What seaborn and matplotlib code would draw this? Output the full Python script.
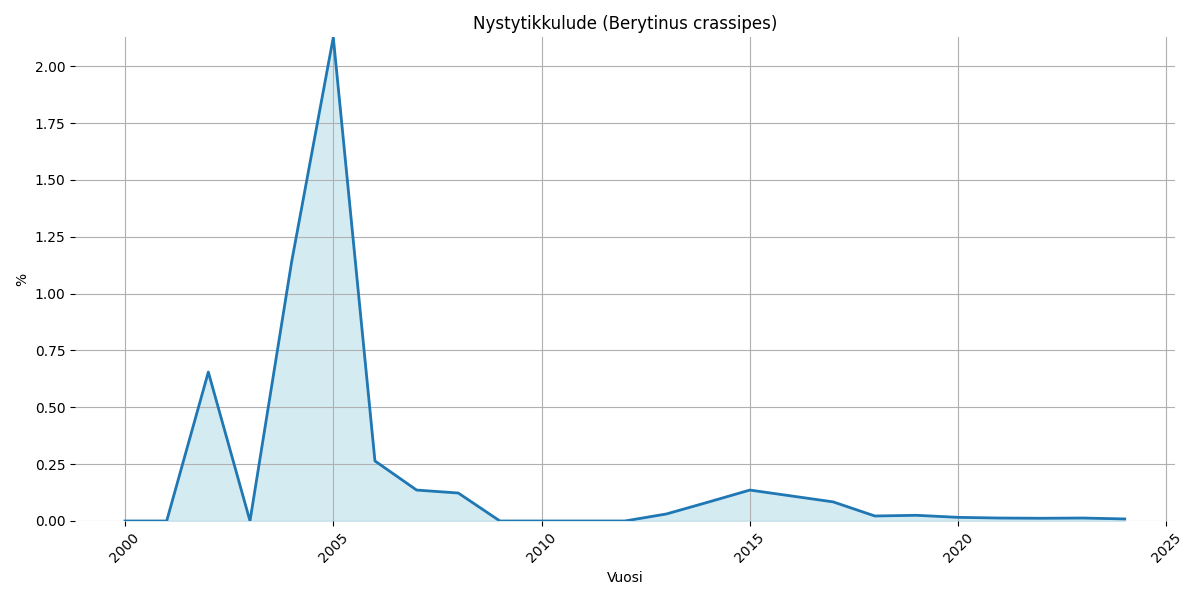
import matplotlib
matplotlib.use("Agg")
import matplotlib.pyplot as plt
import seaborn as sns
import pandas as pd

years = list(range(2000, 2025))
values = [0.0, 0.0, 0.655, 0.0, 1.14, 2.127, 0.264, 0.136, 0.123, 0.0,
          0.0, 0.0, 0.0, 0.031, 0.083, 0.136, 0.11, 0.084, 0.022, 0.025,
          0.016, 0.013, 0.012, 0.013, 0.009]

df = pd.DataFrame({"Vuosi": years, "%": values})

fig, ax = plt.subplots(figsize=(12, 6), dpi=100)
ax.fill_between(df["Vuosi"], df["%"], color="lightblue", alpha=0.5)
sns.lineplot(data=df, x="Vuosi", y="%", ax=ax, color="#1f77b4", linewidth=2)
ax.set_title("Nystytikkulude (Berytinus crassipes)")
ax.set_ylim(0, max(values))
ax.grid(True, color="#b0b0b0")
for s in ax.spines.values():
    s.set_visible(False)
plt.xticks(rotation=45)
plt.tight_layout()
plt.savefig("out.png")
